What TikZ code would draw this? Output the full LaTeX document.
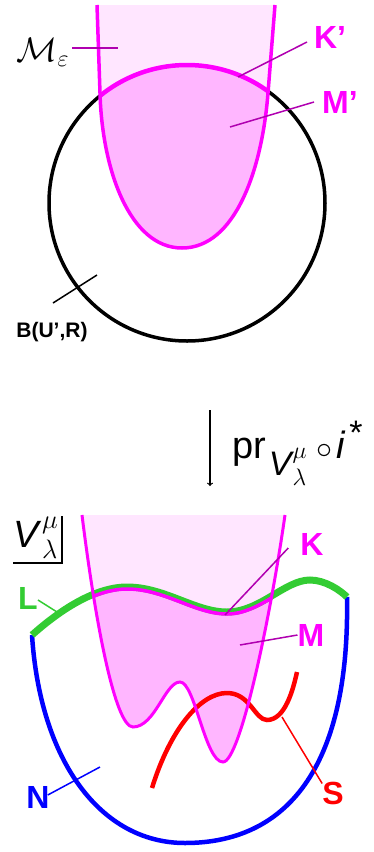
\RequirePackage{fix-cm}
\documentclass[tikz,border=0pt]{standalone}
\usepackage{amsmath}
\usepackage{amssymb}
\usepackage{fontspec}
\setmainfont{Liberation Sans}
\usepackage{tikz}

\definecolor{mag}{HTML}{FF00FF}
\definecolor{lightpink}{HTML}{FFE6FF}
\definecolor{darkpink}{HTML}{FFB6FF}
\definecolor{purp}{HTML}{B000B0}
\definecolor{grn}{HTML}{33CC33}

\tikzset{
  lbl/.style={font=\fontsize{32}{34}\selectfont\bfseries, inner sep=0pt},
  tick/.style={line width=1.5pt}
}

\begin{document}
\begin{tikzpicture}[x=1pt, y=-1pt]
                    \useasboundingbox (0,0) rectangle (374,852);
                    % Upper picture
                    \def\tubeup{(97,5) -- (100,93) .. controls (102,170) and (130,248) .. (182,248)
                      .. controls (235,248) and (262,170) .. (268,93) -- (275,5)}
                    \draw[line width=3.5pt] (187,203) circle (138);
                    \fill[lightpink] \tubeup -- cycle;
                    \begin{scope}
                      \clip (187,203) circle (138);
                      \fill[darkpink] \tubeup -- cycle;
                    \end{scope}
                    \begin{scope}
                      \clip \tubeup -- cycle;
                      \draw[mag, line width=4.5pt] (187,203) circle (138);
                    \end{scope}
                    \draw[mag, line width=3.5pt] \tubeup;
                    % Lower picture
                    \def\tubelo{(82,515) .. controls (95,620) and (115,727) .. (133,727)
                      .. controls (155,727) and (165,682) .. (180,682)
                      .. controls (195,682) and (205,762) .. (223,762)
                      .. controls (240,762) and (270,620) .. (285,515)}
                    \def\lcurve{(32,635) .. controls (60,610) and (95,587) .. (127,587)
                      .. controls (165,587) and (195,612) .. (227,612)
                      .. controls (260,612) and (285,580) .. (310,580)
                      .. controls (325,580) and (340,590) .. (347,597)}
                    \fill[lightpink] \tubelo -- cycle;
                    \begin{scope}
                      \clip \tubelo -- cycle;
                      \fill[darkpink] \lcurve -- (347,852) -- (32,852) -- cycle;
                    \end{scope}
                    \draw[blue, line width=4.5pt] (32,635) .. controls (40,760) and (100,843) .. (185,843)
                      .. controls (285,843) and (350,770) .. (347,597);
                    \draw[grn, line width=7pt] \lcurve;
                    \draw[red, line width=4.5pt] (152,788) .. controls (170,730) and (200,693) .. (227,693)
                      .. controls (250,693) and (255,720) .. (267,720)
                      .. controls (285,720) and (293,690) .. (297,672);
                    \begin{scope}
                      \clip \tubelo -- cycle;
                      \draw[mag, line width=3.5pt, yshift=-2pt] \lcurve;
                    \end{scope}
                    \draw[mag, line width=3pt] \tubelo;
                    % Nodes
                    \node[lbl, mag] (Kp) at (330,37) {K'};
                    \node[lbl, mag] (Mp) at (340,102) {M'};
                    \node[inner sep=0pt, font=\fontsize{34}{36}\selectfont] (Me) at (43,52) {$\mathcal{M}_{\varepsilon}$};
                    \node[inner sep=0pt, font=\fontsize{21}{23}\selectfont\bfseries] (B) at (52,332) {B(U',R)};
                    \node[lbl, mag] (K) at (312,544) {K};
                    \node[lbl, mag] (M) at (311,635) {M};
                    \node[lbl, grn] (L) at (28,598) {L};
                    \node[lbl, blue] (N) at (38,797) {N};
                    \node[lbl, red] (S) at (333,793) {S};
                    \node[inner sep=0pt, anchor=base west, font=\fontsize{38}{40}\selectfont] (pr) at (232,458)
                      {pr\hspace{3pt}\raisebox{-17pt}{\fontsize{34}{36}\selectfont\itshape V\hspace{1pt}$^{\mu}_{\lambda}$}\hspace{9pt}{\fontsize{32}{34}\selectfont$\circ$}\hspace{4pt}\textit{i}\hspace{4pt}\raisebox{14pt}{\fontsize{34}{36}\selectfont *}};
                    \node[inner sep=0pt, font=\fontsize{38}{40}\selectfont] (V) at (36,538) {\textit{V}$^{\mu}_{\lambda}$};
                    \coordinate (arrtop) at (210,410);
                    \coordinate (arrbot) at (210,486);
                    \coordinate (Vr) at (62,516);
                    \coordinate (Vc) at (62,563);
                    \coordinate (Vl) at (13,563);
                    \coordinate (kp) at (238,77);
                    \coordinate (mp) at (230,127);
                    \coordinate (me) at (118,48);
                    \coordinate (b) at (97,275);
                    \coordinate (k) at (225,615);
                    \coordinate (m) at (240,645);
                    \coordinate (l) at (57,612);
                    \coordinate (n) at (100,767);
                    \coordinate (s) at (282,717);
                    % Edges
                    \draw[line width=1.2pt, ->] (arrtop) -- (arrbot);
                    \draw[line width=1.5pt] (Vr) -- (Vc) -- (Vl);
                    \draw[tick, purp] (307,42) -- (kp);
                    \draw[tick, purp] (Mp.west) ++(-8,0) -- (mp);
                    \draw[tick, purp] (72,48) -- (me);
                    \draw[tick] (B.north) ++(1,-19) coordinate (b0) -- (b);
                    \draw[tick, purp] (K.west) ++(-12,4) -- (k);
                    \draw[tick, purp] (M.west) -- (m);
                    \draw[tick, grn] (L.east) ++(0,2) -- (l);
                    \draw[tick, blue] (N.east) ++(-2,-2) -- (n);
                    \draw[tick, red] (S.north west) ++(0,2) -- (s);
                \end{tikzpicture}
\end{document}
